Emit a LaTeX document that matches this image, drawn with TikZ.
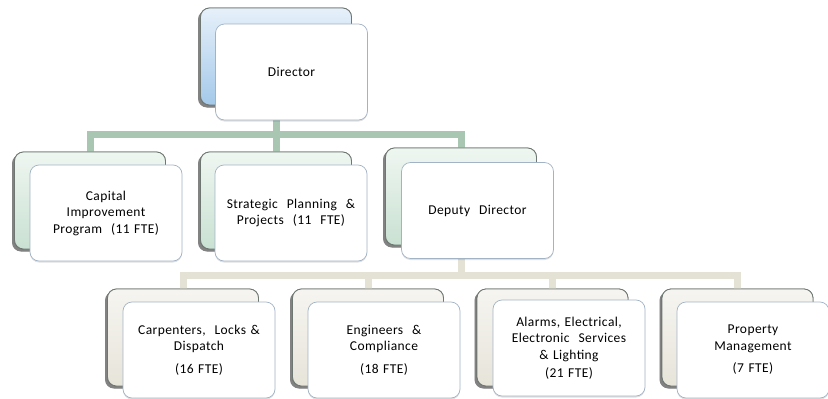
\documentclass[tikz,border=0pt]{standalone}
\usepackage{fontspec}
\setmainfont[LetterSpace=3]{Carlito}
\usetikzlibrary{shadows}
\definecolor{connA}{HTML}{A9C6B3}
\definecolor{connB}{HTML}{E4E1D5}
\definecolor{frontedge}{HTML}{A3B3C6}
\definecolor{backedge}{HTML}{6F7772}
\definecolor{blueTop}{HTML}{E6F0FA}
\definecolor{blueBot}{HTML}{A4C9EA}
\definecolor{greenTop}{HTML}{EFF6F1}
\definecolor{greenBot}{HTML}{C9E1D2}
\tikzset{
  backbox/.style={draw=backedge, line width=0.8pt, rounded corners=9pt,
    minimum width=151pt, minimum height=97pt, inner sep=0pt,
    drop shadow={shadow xshift=-2.5pt, shadow yshift=-2.5pt, opacity=0.45, fill=black!70}},
  bluebk/.style={backbox, top color=blueTop, bottom color=blueBot},
  greenbk/.style={backbox, top color=greenTop, bottom color=greenBot},
  beigebk/.style={backbox, top color=connB!35!white, bottom color=connB!90!white},
  frontbox/.style={draw=frontedge, line width=0.7pt, rounded corners=9pt, fill=white,
    drop shadow={shadow xshift=0pt, shadow yshift=-1.5pt, opacity=0.12, fill=black},
    minimum width=152pt, minimum height=96pt, inner sep=2pt, align=center,
    font=\fontsize{13.5}{16.5}\selectfont, text width=146pt},
  conA/.style={draw=connA, line width=7pt},
  conB/.style={draw=connB, line width=7pt},
}
\begin{document}
\begin{tikzpicture}[x=1pt,y=-1pt]
\useasboundingbox (0,0) rectangle (828,399);
\coordinate (bar1) at (276,134);
\coordinate (bar2) at (461,275);
% back boxes (positions)
\node[bluebk]  (dirB) at (276,56.5) {};
\node[greenbk] (capB) at (90,200.5) {};
\node[greenbk] (strB) at (276,200.5) {};
\node[greenbk] (depB) at (461,196.5) {};
\node[beigebk] (carB) at (183,337.5) {};
\node[beigebk] (engB) at (368,337.5) {};
\node[beigebk] (alaB) at (552.5,337.5) {};
\node[beigebk] (proB) at (737.5,337.5) {};
% connectors
\draw[conA] (capB.north) |- (bar1) -| (depB.north);
\draw[conA] (dirB.south) -- (strB.north);
\draw[conB] (carB.north) |- (bar2) -| (proB.north);
\draw[conB] (depB.south) -- (bar2);
\draw[conB] (engB.north) -- (engB.north |- bar2);
\draw[conB] (alaB.north) -- (alaB.north |- bar2);
% redraw back boxes over connectors
\node[bluebk]  at (dirB) {};
\node[greenbk] at (capB) {};
\node[greenbk] at (strB) {};
\node[greenbk] at (depB) {};
\node[beigebk] at (carB) {};
\node[beigebk] at (engB) {};
\node[beigebk] at (alaB) {};
\node[beigebk] at (proB) {};
% front boxes
\node[frontbox] (dirF) at (291.5,72) {Director};
\node[frontbox] (capF) at (106,213) {Capital\\ Improvement\\ Program~ (11 FTE)};
\node[frontbox] (strF) at (291,213) {Strategic~ Planning~ \&\\ Projects~ (11~ FTE)};
\node[frontbox] (depF) at (477.5,210.5) {Deputy~ Director};
\node[frontbox] (carF) at (199,350) {Carpenters,~ Locks \&\\ Dispatch\\[6pt] (16 FTE)};
\node[frontbox] (engF) at (384,350) {Engineers~ \&\\ Compliance\\[6pt] (18 FTE)};
\node[frontbox] (alaF) at (569,348) {Alarms, Electrical,\\ Electronic~ Services\\ \& Lighting\\[2pt] (21 FTE)};
\node[frontbox] (proF) at (753,350) {Property\\ Management\\[6pt] (7 FTE)};
\end{tikzpicture}
\end{document}
